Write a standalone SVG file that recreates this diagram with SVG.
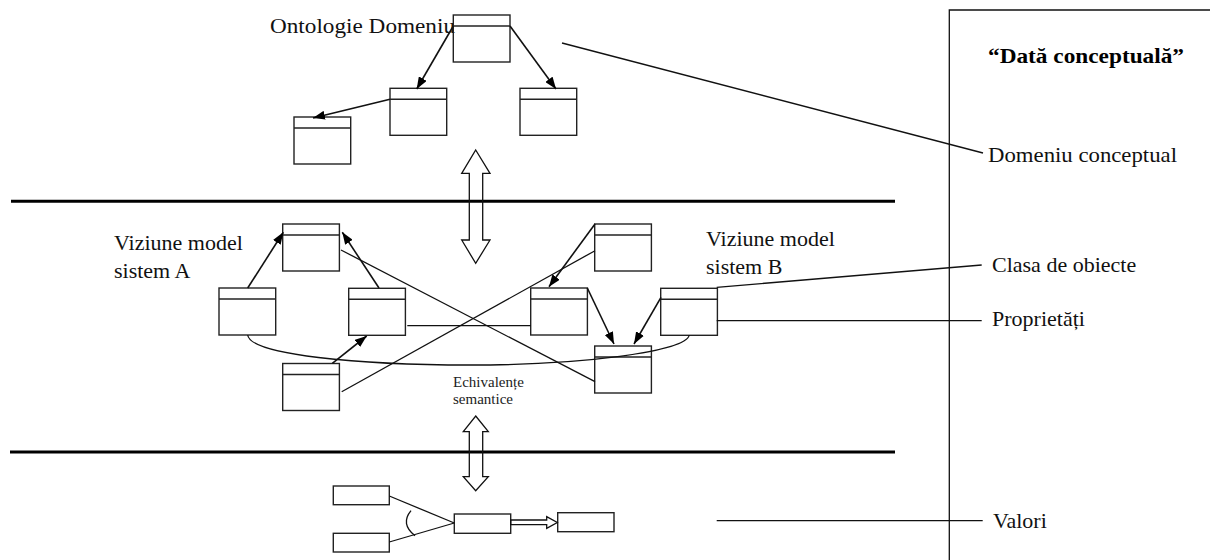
<svg xmlns="http://www.w3.org/2000/svg" width="1210" height="560" viewBox="0 0 1210 560">
<style>
.bx{fill:none;stroke:#222;stroke-width:1.4}
.ln{fill:none;stroke:#111;stroke-width:1.3}
.ar{fill:none;stroke:#111;stroke-width:1.6;marker-end:url(#ah)}
.thick{stroke:#000;stroke-width:3}
.t{font-family:"Liberation Serif","Times New Roman",serif;font-size:22px;fill:#111}
.s{font-family:"Liberation Serif","Times New Roman",serif;font-size:15px;fill:#222}
.b{font-family:"Liberation Serif","Times New Roman",serif;font-size:22px;font-weight:bold;fill:#000}
</style>
<defs>
<marker id="ah" viewBox="0 0 12 9" refX="12" refY="4.5" markerWidth="12" markerHeight="9" orient="auto" markerUnits="userSpaceOnUse">
<path d="M0,0 L12,4.5 L0,9 z" fill="#000"/>
</marker>
<g id="cls"><rect class="bx" x="0" y="0" width="56.7" height="47"/><line class="bx" x1="0" y1="11" x2="56.7" y2="11"/></g>
</defs>
<rect width="1210" height="560" fill="#fff"/>

<g id="frame">
<line class="thick" x1="11" y1="201.3" x2="895" y2="201.3"/>
<line class="thick" x1="10" y1="452" x2="895" y2="452"/>
<polyline class="ln" points="949.3,560 949.3,10 1210,10" stroke-width="1.5"/>
</g>

<g id="labels">
<text class="t" x="270" y="33" textLength="185" lengthAdjust="spacingAndGlyphs">Ontologie Domeniu</text>
<text class="b" x="988" y="63" textLength="196" lengthAdjust="spacingAndGlyphs">“Dată conceptuală”</text>
<text class="t" x="988" y="162" textLength="189" lengthAdjust="spacingAndGlyphs">Domeniu conceptual</text>
<text class="t" x="114" y="250">Viziune model</text>
<text class="t" x="114" y="278">sistem A</text>
<text class="t" x="706" y="246">Viziune model</text>
<text class="t" x="706" y="274">sistem B</text>
<text class="t" x="992" y="272">Clasa de obiecte</text>
<text class="t" x="992" y="326">Proprietăți</text>
<text class="s" x="453" y="387">Echivalențe</text>
<text class="s" x="453" y="404">semantice</text>
<text class="t" x="993" y="528">Valori</text>
</g>

<g id="n-onto-top"><use href="#cls" x="453.3" y="15"/></g>
<g id="n-onto-mid"><use href="#cls" x="390" y="88.3"/></g>
<g id="n-onto-right"><use href="#cls" x="520" y="88.3"/></g>
<g id="n-onto-left"><use href="#cls" x="294" y="117"/></g>

<g id="n-a-top"><use href="#cls" x="282.7" y="224"/></g>
<g id="n-a-left"><use href="#cls" x="219" y="288"/></g>
<g id="n-a-right"><use href="#cls" x="348.7" y="288.3"/></g>
<g id="n-a-bottom"><use href="#cls" x="282.7" y="363.5"/></g>

<g id="n-b-top"><use href="#cls" x="594.7" y="224"/></g>
<g id="n-b-left"><use href="#cls" x="530.7" y="288"/></g>
<g id="n-b-right"><use href="#cls" x="660.7" y="288.3"/></g>
<g id="n-b-bottom"><use href="#cls" x="594.7" y="346"/></g>

<g id="n-v1"><rect class="bx" x="333.3" y="486" width="56" height="18.7"/></g>
<g id="n-v2"><rect class="bx" x="333.3" y="533.3" width="56" height="18.7"/></g>
<g id="n-v3"><rect class="bx" x="454.3" y="514" width="56.4" height="19.3"/></g>
<g id="n-v4"><rect class="bx" x="557.7" y="512.7" width="56.3" height="19"/></g>

<g id="connectors">
<line class="ar" x1="453.3" y1="26" x2="416.7" y2="89"/>
<line class="ar" x1="510" y1="26" x2="556" y2="89"/>
<line class="ar" x1="390" y1="99.3" x2="313" y2="118"/>
<line class="ar" x1="247.7" y1="288" x2="283.3" y2="232.3"/>
<line class="ar" x1="379" y1="288" x2="342.3" y2="232.3"/>
<line class="ar" x1="332.3" y1="363.3" x2="366.7" y2="336"/>
<line class="ar" x1="595" y1="224" x2="549" y2="286.7"/>
<line class="ar" x1="587.3" y1="288" x2="614" y2="344"/>
<line class="ar" x1="661" y1="297.3" x2="634" y2="344"/>

<line class="ln" x1="341" y1="250" x2="595" y2="381.7"/>
<line class="ln" x1="407.3" y1="325.7" x2="531" y2="325.7"/>
<line class="ln" x1="341.7" y1="391.7" x2="595" y2="250.7"/>
<path class="ln" d="M247.7,335 C250,355 360,365 470,365 C580,365 686,352 689.3,335"/>
<line class="ln" x1="562" y1="43" x2="983" y2="153"/>
<line class="ln" x1="716.7" y1="287.3" x2="981.7" y2="265"/>
<line class="ln" x1="716.7" y1="320.7" x2="981.7" y2="320.7"/>
<line class="ln" x1="716.7" y1="520.7" x2="982.7" y2="520.7"/>

<polygon class="ln" points="475.7,150 490,173.3 482.7,173.3 482.7,240 490,240 475.7,263.3 461.7,240 469.3,240 469.3,173.3 461.7,173.3"/>
<polygon class="ln" points="475.7,416 488.3,431.7 482.7,431.7 482.7,476.7 488.3,476.7 475.7,490.7 463.3,476.7 469.3,476.7 469.3,431.7 463.3,431.7"/>

<line class="ln" x1="389.3" y1="496" x2="454.3" y2="523"/>
<line class="ln" x1="389.3" y1="542" x2="454.3" y2="523"/>
<path class="ln" d="M411,510.7 Q400,524 415,535.7"/>
<polygon class="ln" points="510.7,520 546.7,520 546.7,516.7 557.3,522.5 546.7,528.3 546.7,524.7 510.7,524.7"/>
</g>
</svg>
